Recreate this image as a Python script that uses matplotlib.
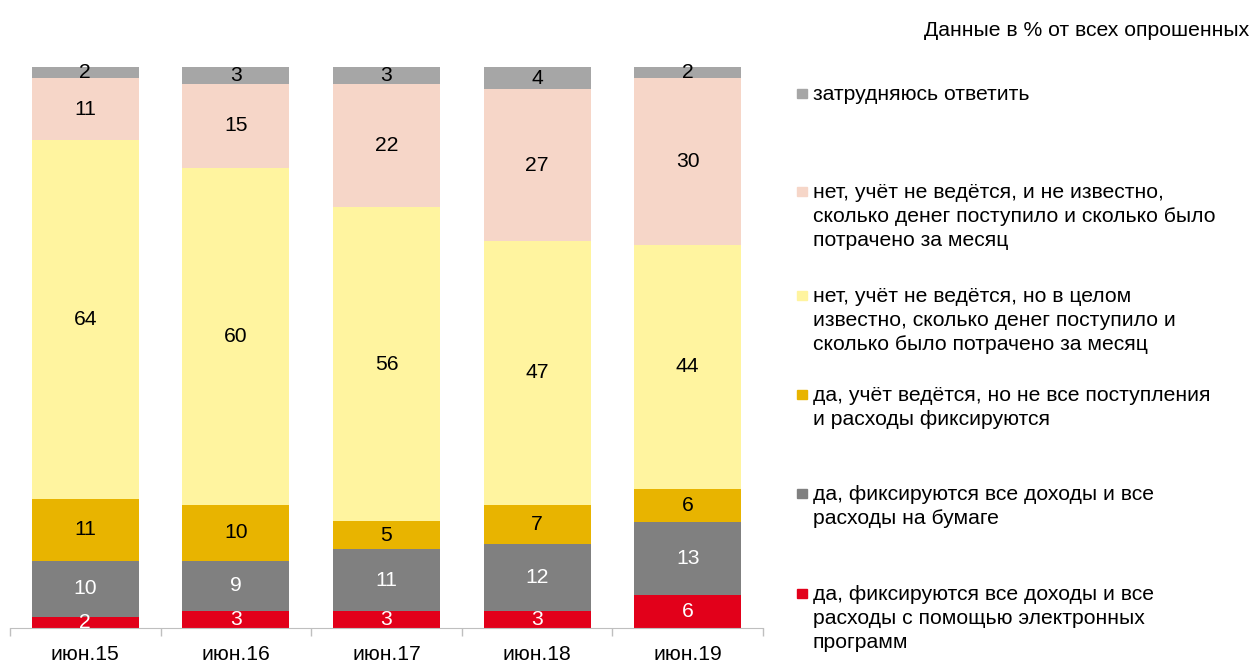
import matplotlib
matplotlib.use("Agg")
import matplotlib.pyplot as plt
import numpy as np
from matplotlib.patches import Rectangle

plt.rcParams['font.family'] = ['Liberation Sans', 'DejaVu Sans']

categories = ["июн.15", "июн.16", "июн.17", "июн.18", "июн.19"]

series_names = [
    "да, фиксируются все доходы и все\nрасходы с помощью электронных\nпрограмм",
    "да, фиксируются все доходы и все\nрасходы на бумаге",
    "да, учёт ведётся, но не все поступления\nи расходы фиксируются",
    "нет, учёт не ведётся, но в целом\nизвестно, сколько денег поступило и\nсколько было потрачено за месяц",
    "нет, учёт не ведётся, и не известно,\nсколько денег поступило и сколько было\nпотрачено за месяц",
    "затрудняюсь ответить",
]

electronic = [2, 3, 3, 3, 6]
paper = [10, 9, 11, 12, 13]
partial = [11, 10, 5, 7, 6]
no_known = [64, 60, 56, 47, 44]
no_unknown = [11, 15, 22, 27, 30]
hard_to_say = [2, 3, 3, 4, 2]

colors = ["#E2001A", "#808080", "#E8B400", "#FFF49F", "#F6D6C8", "#A6A6A6"]
label_colors = ["white", "white", "black", "black", "black", "black"]

FS = 15.2
W, H = 1252, 664
fig = plt.figure(figsize=(W / 100, H / 100), dpi=100)


def fx(px):
    return px / W


def fy(py):
    return 1 - py / H


ax = fig.add_axes([fx(10), fy(628), (763 - 10) / W, (628 - 67) / H])

data = np.array([electronic, paper, partial, no_known, no_unknown, hard_to_say], dtype=float)
totals = data.sum(axis=0)
shares = data / totals * 100

x = np.arange(len(categories))
bottom = np.zeros(len(categories))
for i in range(len(data)):
    ax.bar(x, shares[i], bottom=bottom, width=0.71, color=colors[i], edgecolor="none")
    for j in range(len(categories)):
        ax.text(x[j], bottom[j] + shares[i][j] / 2, f"{int(data[i][j])}",
                ha="center", va="center", fontsize=FS, color=label_colors[i])
    bottom += shares[i]

ax.set_xlim(-0.5, len(categories) - 0.5)
ax.set_ylim(0, 100)
for s in ["top", "right", "left"]:
    ax.spines[s].set_visible(False)
ax.spines["bottom"].set_color("#BFBFBF")
ax.set_yticks([])
ax.set_xticks(np.arange(-0.5, len(categories), 1))
ax.set_xticklabels([])
ax.tick_params(axis="x", length=6, color="#BFBFBF", width=1)

# category labels below the axis
for j, c in enumerate(categories):
    xf = fig.transFigure.inverted().transform(ax.transData.transform((x[j], 0)))[0]
    fig.text(xf, fy(660), c, ha="center", va="baseline", fontsize=FS, color="black")

fig.text(fx(1249), fy(36), "Данные в % от всех опрошенных", ha="right", va="baseline",
         fontsize=FS, color="black")

# legend, top entry first
baselines = [100, 198, 302, 401, 500, 600]
order = list(range(len(series_names)))[::-1]
for base, idx in zip(baselines, order):
    fig.patches.append(Rectangle((fx(797), fy(base - 2)), 10 / W, 9 / H,
                                 transform=fig.transFigure, color=colors[idx]))
    for k, line in enumerate(series_names[idx].split("\n")):
        fig.text(fx(813), fy(base + 24 * k), line, ha="left", va="baseline",
                 fontsize=FS, color="black")

fig.savefig("out.png", dpi=100)
